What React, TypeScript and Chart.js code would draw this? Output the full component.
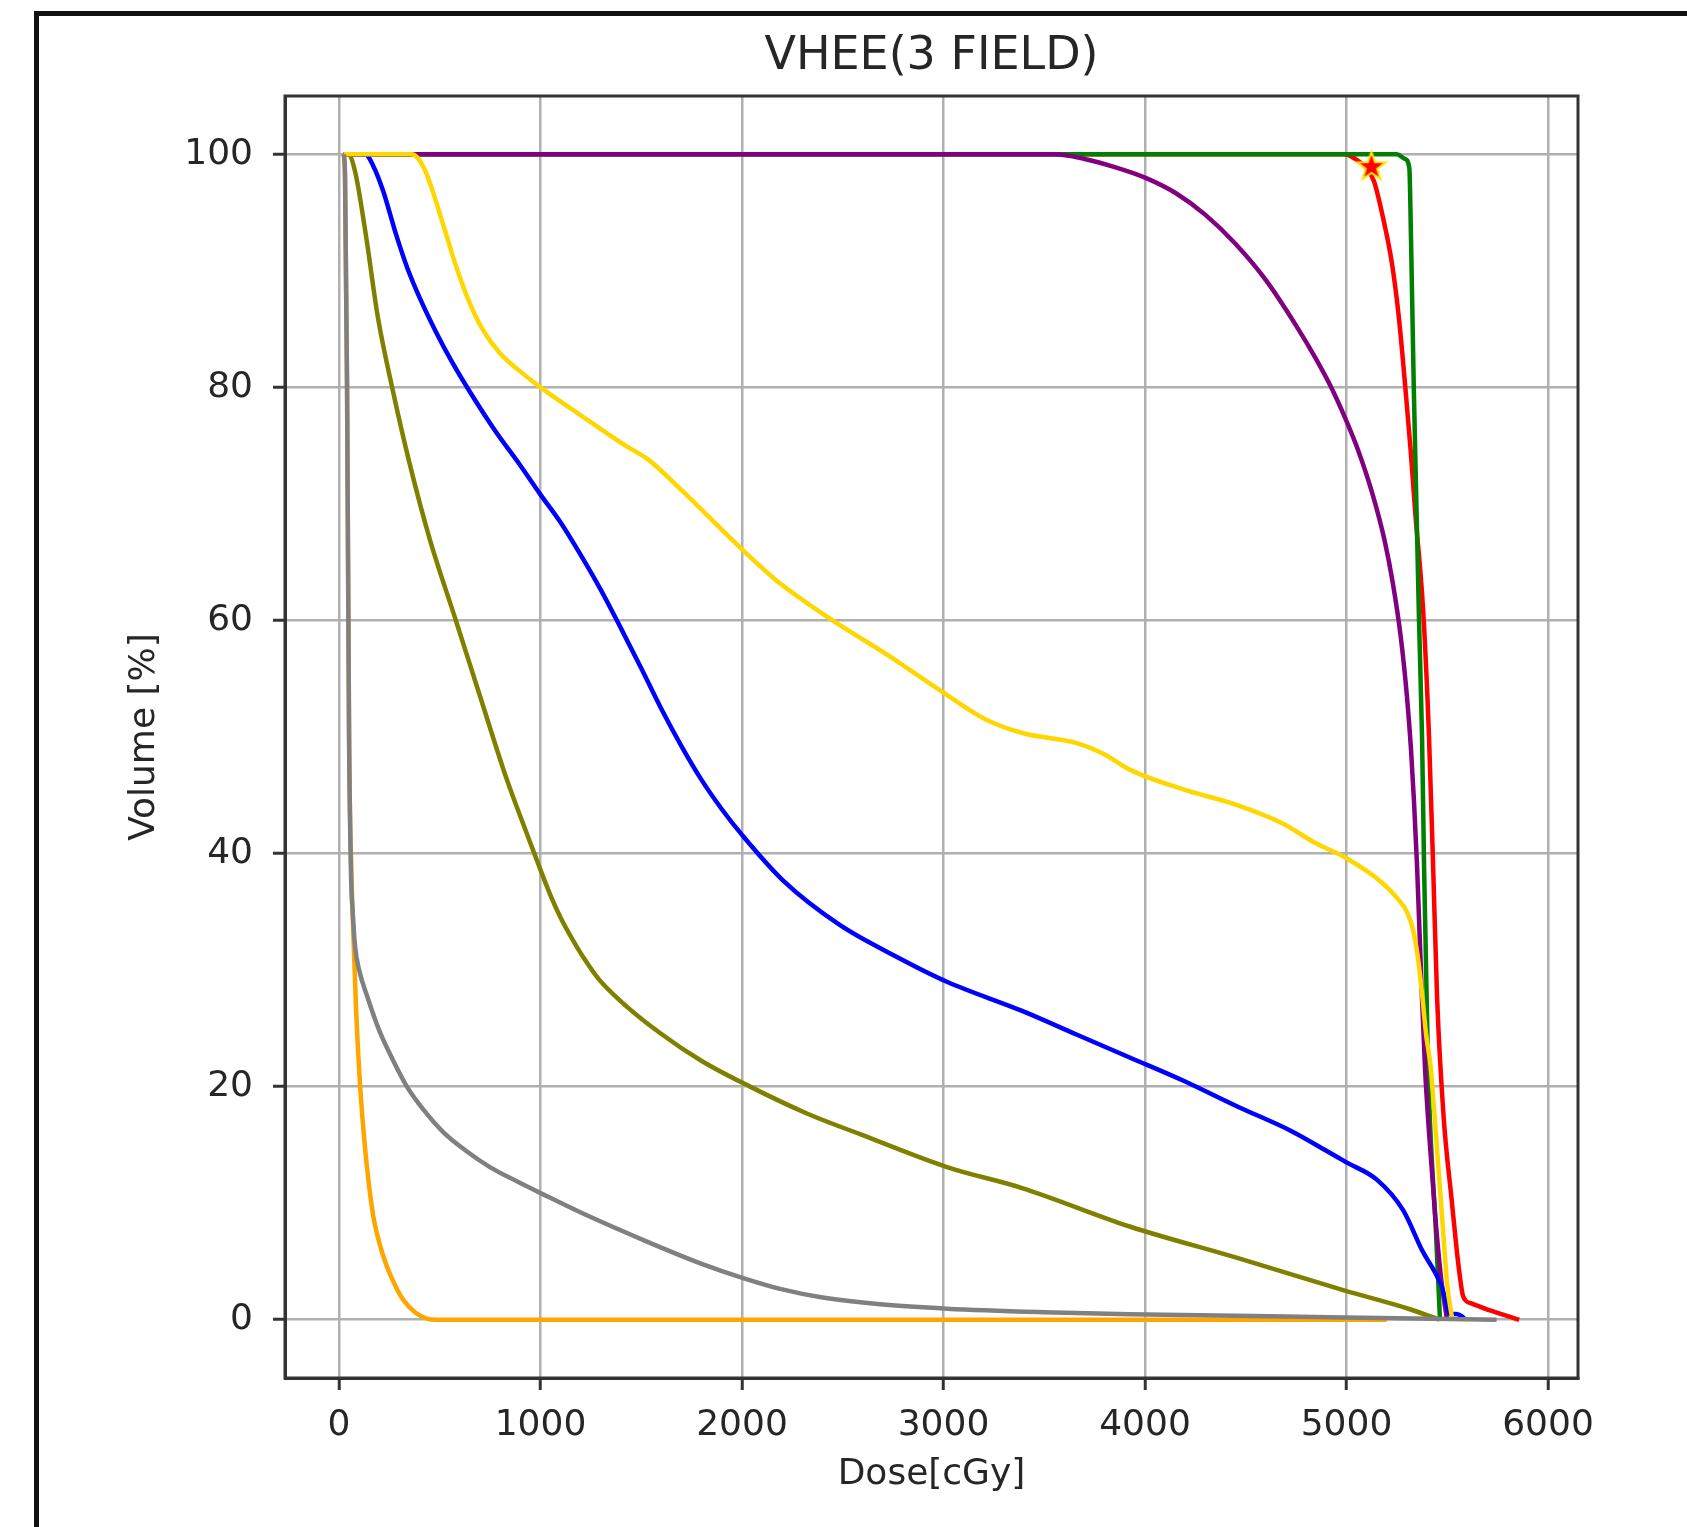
import React, { useEffect, useRef } from 'react';
import { Chart, registerables } from 'chart.js';

Chart.register(...registerables);

// ---------- text ----------
const TITLE = 'VHEE(3 FIELD)';
const X_LABEL = 'Dose[cGy]';
const Y_LABEL = 'Volume [%]';

// ---------- axes ----------
const X_TICKS = [0, 1000, 2000, 3000, 4000, 5000, 6000];
const Y_TICKS = [0, 20, 40, 60, 80, 100];
const X_MIN = -268;
const X_MAX = 6149;
const Y_MIN = -5;
const Y_MAX = 105;

// ---------- series (dose cGy, volume %) ----------
const grayDose = [24, 30, 40, 50, 60, 68, 80, 100, 139, 200, 253, 337, 420, 517, 630, 749, 880, 1008, 1200, 1543, 1800, 2002, 2200, 2400, 2700, 3017, 3500, 3924, 4992, 5745];
const grayVol = [100, 98, 80, 50, 38, 35, 32, 30, 27.8, 24.8, 22.8, 20, 18, 16.1, 14.5, 13.1, 11.9, 10.8, 9.2, 6.6, 4.8, 3.6, 2.6, 1.9, 1.3, 0.95, 0.65, 0.48, 0.2, 0];

const orangeDose = [24, 30, 40, 50, 62, 70, 85, 105, 130, 150, 170, 200, 237, 280, 319, 380, 436, 480, 5200];
const orangeVol = [100, 98, 80, 50, 38, 33.7, 26.5, 20, 14.6, 11.4, 8.9, 6.6, 4.6, 2.9, 1.7, 0.6, 0.1, 0, 0];

const goldDose = [24, 360, 390, 430, 462, 520, 577, 640, 712, 800, 890, 1000, 1200, 1422, 1535, 1687, 2000, 2166, 2450, 2735, 3000, 3210, 3400, 3530, 3657, 3800, 3924, 4191, 4450, 4681, 4846, 5000, 5177, 5260, 5300, 5330, 5355, 5375, 5395, 5417, 5435, 5480, 5500, 5525];
const goldVol = [100, 100, 99.7, 98.5, 97, 93.8, 90.6, 87.6, 85, 82.9, 81.5, 80, 77.6, 75, 73.8, 71.4, 66.1, 63.5, 60, 56.9, 53.8, 51.5, 50.3, 49.9, 49.5, 48.5, 47.2, 45.5, 44.2, 42.6, 40.9, 39.6, 37.5, 36, 35, 33.5, 31, 28, 24.5, 21.8, 18, 7.5, 3, 0];

const blueDose = [24, 130, 170, 220, 280, 340, 400, 480, 560, 650, 774, 900, 1000, 1100, 1200, 1300, 1400, 1500, 1600, 1700, 1800, 1900, 2000, 2203, 2483, 2750, 3017, 3390, 3657, 3924, 4191, 4458, 4725, 4900, 5000, 5152, 5281, 5374, 5473, 5514, 5545, 5573, 5590];
const blueVol = [100, 100, 99, 96.8, 93.3, 90.2, 87.7, 84.8, 82.2, 79.6, 76.3, 73.3, 70.8, 68.4, 65.6, 62.6, 59.3, 55.9, 52.4, 49.2, 46.3, 43.8, 41.6, 37.7, 33.9, 31.3, 29, 26.5, 24.5, 22.5, 20.5, 18.3, 16.2, 14.5, 13.5, 12, 9.4, 6.0, 2.85, 0.5, 0.5, 0.3, 0];

const oliveDose = [24, 45, 80, 134, 193, 270, 350, 450, 580, 700, 830, 930, 1000, 1050, 1100, 1160, 1220, 1290, 1400, 1593, 1800, 2040, 2322, 2589, 3017, 3390, 3924, 4458, 4992, 5315, 5462];
const oliveVol = [100, 100, 98.5, 93, 86, 79.5, 73.5, 67, 60, 53.5, 46.5, 41.8, 38.6, 36.4, 34.5, 32.6, 30.9, 29.2, 27.3, 24.6, 22.2, 20, 17.7, 15.9, 13.1, 11.3, 8.0, 5.3, 2.5, 0.9, 0];

const purpleDose = [24, 3550, 3700, 3850, 4000, 4150, 4300, 4450, 4600, 4750, 4850, 4930, 5000, 5060, 5130, 5190, 5230, 5270, 5300, 5320, 5335, 5350, 5362, 5375, 5390, 5410, 5440, 5470, 5499];
const purpleVol = [100, 100, 99.6, 98.9, 98, 96.7, 94.8, 92.3, 89.2, 85.3, 82.4, 79.8, 77.1, 74.5, 70.8, 66.8, 63.2, 58.5, 53.5, 49, 44.5, 39, 33.5, 27.5, 21.5, 16, 9, 3.5, 0];

const greenDose = [24, 5250, 5290, 5312, 5320, 5334, 5350, 5360, 5375, 5385, 5393, 5402, 5410, 5444, 5464];
const greenVol = [100, 100, 99.6, 98.8, 93, 80, 67.7, 60, 50, 39, 32, 24, 18.9, 7.5, 0];

const redDose = [24, 4990, 5061, 5100, 5136, 5177, 5226, 5260, 5292, 5317, 5342, 5380, 5409, 5430, 5450, 5483, 5522, 5547, 5563, 5579, 5620, 5713, 5800, 5857];
const redVol = [100, 100, 99.4, 98.8, 97.7, 94.9, 90.6, 86, 80, 74.9, 69.1, 61, 50.3, 38.9, 27.5, 17.2, 10.3, 6.0, 3.7, 2.0, 1.4, 0.8, 0.3, 0];

const starDose = [5124];
const starVol = [99];

// ---------- styles ----------
const FONT = "'DejaVu Sans', sans-serif";
const TEXT_COLOR = '#262626';
const AXIS_COLOR = '#333333';
const GRID_COLOR = '#b0b0b0';
const LINE_WIDTH = 4.5;

const W = 1687;
const H = 1527;
const PLOT_LEFT = 285;
const PLOT_RIGHT = 1578;
const PLOT_TOP = 96;
const PLOT_BOTTOM = 1378;
const TITLE_SIZE = 46;

function pts(xs: number[], ys: number[]) {
  return xs.map((x, i) => ({ x, y: ys[i] }));
}

function makeStar(): HTMLCanvasElement {
  const c = document.createElement('canvas');
  const size = 36;
  c.width = size;
  c.height = size;
  const ctx = c.getContext('2d')!;
  const R = 15;
  const r = 6;
  const cx = size / 2;
  const cy = size / 2 + 1;
  ctx.beginPath();
  for (let i = 0; i < 10; i++) {
    const ang = -Math.PI / 2 + (i * Math.PI) / 5;
    const rad = i % 2 === 0 ? R : r;
    ctx.lineTo(cx + rad * Math.cos(ang), cy + rad * Math.sin(ang));
  }
  ctx.closePath();
  ctx.fillStyle = '#ff0000';
  ctx.fill();
  ctx.lineWidth = 2;
  ctx.strokeStyle = '#ffe600';
  ctx.lineJoin = 'miter';
  ctx.stroke();
  return c;
}

const boxPlugin = {
  id: 'boxPlugin',
  afterDatasetsDraw(chart: any) {
    const { ctx, chartArea } = chart;
    ctx.save();
    ctx.strokeStyle = AXIS_COLOR;
    ctx.lineWidth = 3;
    ctx.strokeRect(chartArea.left, chartArea.top, chartArea.right - chartArea.left, chartArea.bottom - chartArea.top);
    ctx.restore();
  },
};

export default function App() {
  const canvasRef = useRef<HTMLCanvasElement | null>(null);

  useEffect(() => {
    document.body.style.margin = '0';
    const canvas = canvasRef.current;
    if (!canvas) return;

    const series = [
      { data: pts(grayDose, grayVol), color: '#808080' },
      { data: pts(orangeDose, orangeVol), color: '#ffa500' },
      { data: pts(goldDose, goldVol), color: '#ffd700' },
      { data: pts(blueDose, blueVol), color: '#0000ff' },
      { data: pts(oliveDose, oliveVol), color: '#808000' },
      { data: pts(purpleDose, purpleVol), color: '#800080' },
      { data: pts(greenDose, greenVol), color: '#008000' },
      { data: pts(redDose, redVol), color: '#ff0000' },
    ];

    const star = makeStar();

    const datasets: any[] = [
      {
        data: pts(starDose, starVol),
        showLine: false,
        pointStyle: star,
        pointRadius: 15,
        borderColor: '#ffe600',
        backgroundColor: '#ff0000',
      },
      ...series.map((s) => ({
        data: s.data,
        borderColor: s.color,
        backgroundColor: s.color,
        borderWidth: LINE_WIDTH,
        pointRadius: 0,
        fill: false,
        cubicInterpolationMode: 'monotone',
        borderJoinStyle: 'round',
        borderCapStyle: 'butt',
      })),
    ];

    const tickFont = { family: FONT, size: 36, weight: 'normal' as const };

    const chart = new Chart(canvas, {
      type: 'line',
      data: { datasets },
      plugins: [boxPlugin],
      options: {
        responsive: false,
        animation: false,
        events: [],
        layout: {
          autoPadding: false,
          padding: { left: 0, right: W - PLOT_RIGHT, top: 0, bottom: 0 },
        },
        plugins: {
          legend: { display: false },
          tooltip: { enabled: false },
          title: {
            display: true,
            fullSize: false,
            text: TITLE,
            color: TEXT_COLOR,
            font: { family: FONT, size: TITLE_SIZE, weight: 'normal' },
            padding: { top: 29, bottom: PLOT_TOP - 29 - TITLE_SIZE * 1.2 },
          },
        },
        scales: {
          x: {
            type: 'linear',
            min: X_MIN,
            max: X_MAX,
            afterBuildTicks: (axis: any) => {
              axis.ticks = X_TICKS.map((v) => ({ value: v }));
            },
            afterFit: (scale: any) => {
              scale.height = H - PLOT_BOTTOM;
            },
            grid: {
              color: GRID_COLOR,
              lineWidth: 2.5,
              tickColor: AXIS_COLOR,
              tickWidth: 3,
              tickLength: 12,
            },
            border: { display: true, color: AXIS_COLOR, width: 3 },
            ticks: {
              color: TEXT_COLOR,
              font: tickFont,
              padding: 14,
              maxRotation: 0,
              autoSkip: false,
              callback: (v: any) => String(v),
            },
            title: {
              display: true,
              text: X_LABEL,
              color: TEXT_COLOR,
              font: tickFont,
              padding: { top: 0, bottom: 31 },
            },
          },
          y: {
            type: 'linear',
            min: Y_MIN,
            max: Y_MAX,
            afterBuildTicks: (axis: any) => {
              axis.ticks = Y_TICKS.map((v) => ({ value: v }));
            },
            afterFit: (scale: any) => {
              scale.width = PLOT_LEFT;
            },
            grid: {
              color: GRID_COLOR,
              lineWidth: 2.5,
              tickColor: AXIS_COLOR,
              tickWidth: 3,
              tickLength: 12,
            },
            border: { display: true, color: AXIS_COLOR, width: 3 },
            ticks: {
              color: TEXT_COLOR,
              font: tickFont,
              padding: 20,
              autoSkip: false,
              callback: (v: any) => String(v),
            },
            title: {
              display: true,
              text: Y_LABEL,
              color: TEXT_COLOR,
              font: tickFont,
              padding: { top: 123, bottom: 0 },
            },
          },
        },
      } as any,
    });

    return () => chart.destroy();
  }, []);

  return (
    <div
      style={{
        position: 'absolute',
        left: 0,
        top: 0,
        width: W,
        height: H,
        background: '#ffffff',
        overflow: 'hidden',
      }}
    >
      <canvas
        ref={canvasRef}
        width={W}
        height={H}
        style={{ position: 'absolute', left: 0, top: 0, width: W, height: H }}
      />
      <div
        style={{
          position: 'absolute',
          left: 34,
          top: 11,
          width: W - 34,
          height: H - 11,
          boxSizing: 'border-box',
          borderLeft: '5px solid #111',
          borderTop: '5px solid #111',
          pointerEvents: 'none',
        }}
      />
    </div>
  );
}
